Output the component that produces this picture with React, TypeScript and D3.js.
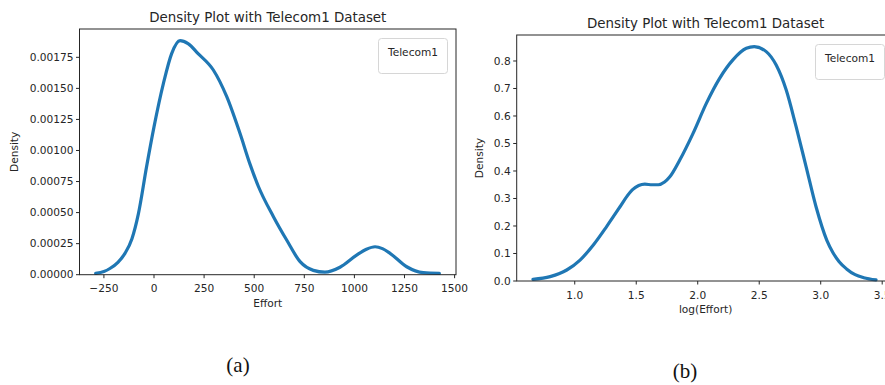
import React from "react";
import * as d3 from "d3";

// Kernel density estimate of Effort (raw scale)
const effortX = [-291, -250, -220, -180, -145, -110, -78, -37, 0, 47, 88, 130, 170, 220, 296, 363, 429, 479, 521, 596, 662, 729, 795, 853, 928, 1011, 1060, 1103, 1140, 1178, 1261, 1344, 1424];
const effortDensity = [0.00001, 0.000025, 0.00005, 0.0001, 0.000172, 0.00029, 0.00049, 0.00087, 0.00119, 0.00154, 0.00178, 0.001884, 0.00186, 0.00178, 0.001648, 0.001433, 0.001138, 0.00089, 0.00071, 0.000467, 0.000279, 0.000105, 0.000035, 0.00002, 0.00006, 0.000158, 0.000205, 0.000225, 0.00021, 0.000172, 0.000064, 0.000016, 0.00001];

// Kernel density estimate of log(Effort)
const logEffortX = [0.66, 0.8, 0.935, 1.043, 1.151, 1.259, 1.368, 1.42, 1.47, 1.52, 1.57, 1.63, 1.68, 1.73, 1.773, 1.854, 1.962, 2.07, 2.178, 2.286, 2.395, 2.46, 2.557, 2.638, 2.719, 2.8, 2.881, 2.962, 3.049, 3.1, 3.15, 3.21, 3.28, 3.35, 3.45];
const logEffortDensity = [0.006, 0.016, 0.04, 0.076, 0.131, 0.198, 0.27, 0.305, 0.332, 0.347, 0.352, 0.35, 0.35, 0.36, 0.379, 0.44, 0.537, 0.646, 0.737, 0.804, 0.846, 0.852, 0.834, 0.785, 0.695, 0.561, 0.416, 0.27, 0.149, 0.103, 0.07, 0.044, 0.023, 0.012, 0.004];

const effortTicksX = [-250, 0, 250, 500, 750, 1000, 1250, 1500];
const effortTicksY = [0, 0.00025, 0.0005, 0.00075, 0.001, 0.00125, 0.0015, 0.00175];
const logTicksX = [1.0, 1.5, 2.0, 2.5, 3.0, 3.5];
const logTicksY = [0, 0.1, 0.2, 0.3, 0.4, 0.5, 0.6, 0.7, 0.8];

const title = "Density Plot with Telecom1 Dataset";
const legendTitle = "Telecom1";

const FONT = "DejaVu Sans, sans-serif";
const INK = "#262626";
const BLUE = "#1f77b4";

type PanelProps = {
  xs: number[];
  ys: number[];
  xDomain: [number, number];
  yDomain: [number, number];
  left: number;
  right: number;
  top: number;
  bottom: number;
  xTicks: number[];
  yTicks: number[];
  xFmt: (v: number) => string;
  yFmt: (v: number) => string;
  xLabel: string;
  yLabelX: number;
  legend: [number, number, number, number];
  caption: string;
  captionX: number;
  captionY: number;
};

function Panel(p: PanelProps) {
  const x = d3.scaleLinear().domain(p.xDomain).range([p.left, p.right]);
  const y = d3.scaleLinear().domain(p.yDomain).range([p.bottom, p.top]);
  const pts = p.xs.map((v, i) => [v, p.ys[i]] as [number, number]);
  const line = d3
    .line<[number, number]>()
    .x((d) => x(d[0]))
    .y((d) => y(d[1]))
    .curve(d3.curveMonotoneX);
  const midX = (p.left + p.right) / 2;
  const [lx, ly, lw, lh] = p.legend;
  return (
    <g>
      <text x={midX} y={p.top - 7} textAnchor="middle" fontFamily={FONT} fontSize={13.4} fill={INK}>
        {title}
      </text>
      <path d={line(pts) || ""} fill="none" stroke={BLUE} strokeWidth={3.2} strokeLinecap="round" strokeLinejoin="round" />
      {/* spines */}
      <rect x={p.left} y={p.top} width={p.right - p.left} height={p.bottom - p.top} fill="none" stroke={INK} strokeWidth={1} />
      {/* x ticks */}
      {p.xTicks.map((t) => (
        <g key={"x" + t} transform={`translate(${x(t)},${p.bottom})`}>
          <line y2={3.5} stroke={INK} />
          <text y={17.5} textAnchor="middle" fontFamily={FONT} fontSize={10.6} fill={INK}>
            {p.xFmt(t)}
          </text>
        </g>
      ))}
      {/* y ticks */}
      {p.yTicks.map((t) => (
        <g key={"y" + t} transform={`translate(${p.left},${y(t)})`}>
          <line x2={-3.5} stroke={INK} />
          <text x={-6} dy="0.35em" textAnchor="end" fontFamily={FONT} fontSize={10.6} fill={INK}>
            {p.yFmt(t)}
          </text>
        </g>
      ))}
      <text x={midX} y={p.bottom + 32} textAnchor="middle" fontFamily={FONT} fontSize={10.6} fill={INK}>
        {p.xLabel}
      </text>
      <text
        transform={`translate(${p.yLabelX},${(p.top + p.bottom) / 2}) rotate(-90)`}
        textAnchor="middle"
        dy="0.35em"
        fontFamily={FONT}
        fontSize={10.6}
        fill={INK}
      >
        Density
      </text>
      {/* legend (title only) */}
      <rect x={lx} y={ly} width={lw} height={lh} rx={3} fill="white" fillOpacity={0.8} stroke="#d6d6d6" strokeWidth={1} />
      <text x={lx + lw / 2} y={ly + 14} dy="0.35em" textAnchor="middle" fontFamily={FONT} fontSize={10.6} fill={INK}>
        {legendTitle}
      </text>
      <text x={p.captionX} y={p.captionY} textAnchor="middle" fontFamily="Liberation Serif, Times New Roman, serif" fontSize={21} fill="#111">
        {p.caption}
      </text>
    </g>
  );
}

export default function App() {
  return (
    <div style={{ position: "absolute", left: 0, top: 0, width: 885, height: 385, background: "white", overflow: "hidden" }}>
      <svg width={885} height={385} style={{ display: "block" }}>
        <rect width={885} height={385} fill="white" />
        <Panel
          xs={effortX}
          ys={effortDensity}
          xDomain={[-371.8, 1507]}
          yDomain={[0, 0.001978]}
          left={79.5}
          right={456}
          top={29}
          bottom={274.7}
          xTicks={effortTicksX}
          yTicks={effortTicksY}
          xFmt={(v) => (v < 0 ? "\u2212" + Math.abs(v) : String(v))}
          yFmt={(v) => v.toFixed(5)}
          xLabel="Effort"
          yLabelX={14}
          legend={[378.5, 38.5, 69, 35]}
          caption="(a)"
          captionX={238}
          captionY={372}
        />
        <Panel
          xs={logEffortX}
          ys={logEffortDensity}
          xDomain={[0.528, 3.6]}
          yDomain={[0, 0.8945]}
          left={516.7}
          right={574.7 + (3.6 - 1.0) * 123}
          top={35}
          bottom={281}
          xTicks={logTicksX}
          yTicks={logTicksY}
          xFmt={(v) => v.toFixed(1)}
          yFmt={(v) => v.toFixed(1)}
          xLabel="log(Effort)"
          yLabelX={479}
          legend={[815.5, 44.5, 69, 35]}
          caption="(b)"
          captionX={685}
          captionY={378}
        />
      </svg>
    </div>
  );
}
